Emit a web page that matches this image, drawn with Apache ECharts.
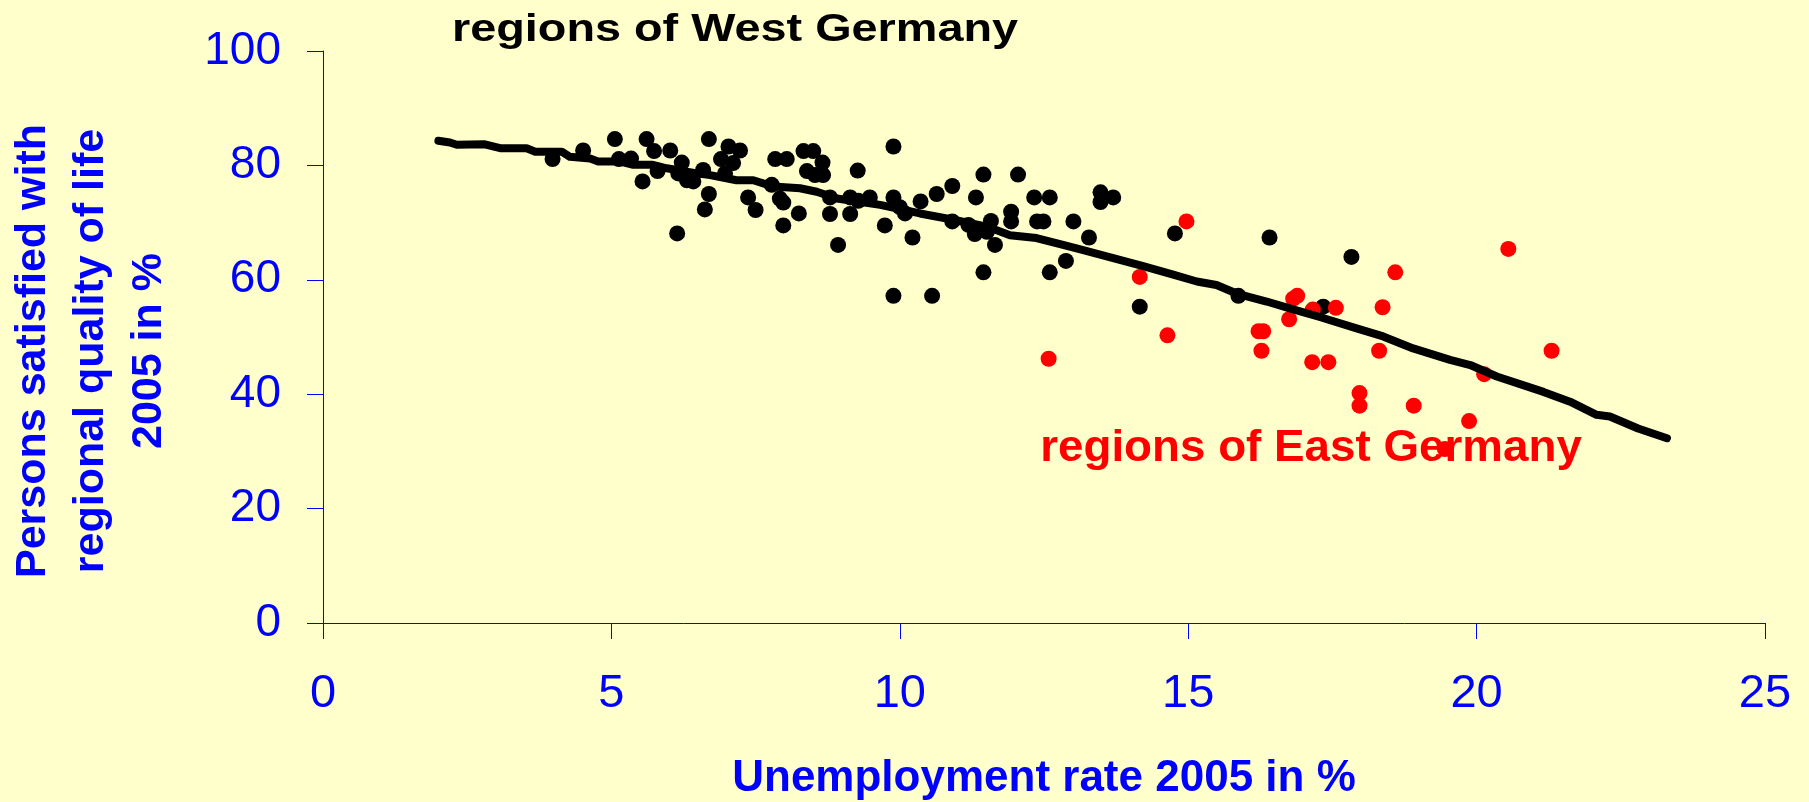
<!DOCTYPE html>
<html>
<head>
<meta charset="utf-8">
<script src="https://cdn.jsdelivr.net/npm/echarts@6/dist/echarts.min.js"></script>
<style>
  html, body { margin: 0; padding: 0; background: #ffffcc; }
  #chart { width: 1809px; height: 802px; }
</style>
</head>
<body>
<div id="chart"></div>
<script>
// ---- data ----
var xTicks = [0, 5, 10, 15, 20, 25];
var yTicks = [0, 20, 40, 60, 80, 100];

var westRegions = [
  [3.98,81.1],[4.51,82.6],[5.06,84.6],[5.13,81.1],[5.34,81.2],[5.54,77.2],[5.61,84.6],[5.74,82.5],
  [5.80,79.0],[6.02,82.6],[6.14,68.1],[6.22,80.5],[6.16,78.6],[6.31,77.4],[6.42,77.2],[6.59,79.2],
  [6.69,84.6],[6.69,75.0],[6.62,72.3],[6.90,81.1],[7.03,83.3],[7.23,82.6],[7.11,80.4],[6.97,78.6],
  [7.37,74.4],[7.50,72.2],[7.84,81.1],[8.04,81.1],[7.78,76.6],[7.92,74.2],[7.98,73.5],[7.98,69.5],
  [8.25,71.6],[8.33,82.5],[8.50,82.5],[8.66,80.5],[8.39,79.0],[8.53,78.3],[8.67,78.3],[8.79,74.4],
  [8.79,71.5],[8.93,66.1],
  [9.89,83.3],[9.27,79.1],[9.14,74.4],[9.28,73.8],[9.48,74.4],[9.14,71.5],[9.89,74.4],[10.0,72.7],
  [10.09,71.6],[9.74,69.5],[10.22,67.4],[10.36,73.7],[10.64,75.0],[10.91,76.4],[10.91,70.2],[11.19,69.6],
  [11.30,68.0],[11.32,74.4],[11.45,78.4],[11.58,70.3],[11.51,68.4],[11.65,66.1],[11.45,61.3],[9.89,57.2],
  [10.56,57.2],[11.93,71.9],[11.93,70.2],[12.05,78.4],[12.33,74.4],[12.60,74.4],[12.38,70.2],[12.49,70.2],
  [13.01,70.2],[13.28,67.4],[12.88,63.3],[12.60,61.3],[13.48,75.3],[13.48,73.6],[13.70,74.4],[14.77,68.1],
  [14.16,55.3],[15.87,57.2],[16.41,67.4],[17.83,64.0],[17.34,55.3]
];

var eastRegions = [
  [14.97,70.2],[14.16,60.5],[12.58,46.2],[14.64,50.3],[16.22,51.0],[16.30,51.0],[16.27,47.6],[16.75,53.1],
  [16.82,56.7],[16.89,57.2],[17.16,54.8],[17.56,55.1],[17.15,45.6],[17.43,45.6],[17.97,40.2],[17.97,38.0],
  [18.31,47.6],[18.37,55.2],[18.59,61.3],[18.91,38.0],[19.45,30.4],[19.87,35.3],[20.13,43.5],[20.55,65.4],
  [21.30,47.6]
];

var trendLine = [
  [2.0,84.3],[2.2,84.0],[2.32,83.6],[2.79,83.7],[3.07,83.0],[3.53,83.0],[3.68,82.4],[4.14,82.4],
  [4.28,81.5],[4.63,81.2],[4.77,80.7],[5.14,80.7],[5.38,80.1],[5.72,80.1],[5.96,79.5],[6.48,78.6],
  [6.71,78.3],[7.17,77.4],[7.46,77.4],[7.81,76.3],[8.27,76.0],[8.56,75.4],[8.91,74.2],[9.66,73.1],
  [10.35,71.6],[10.93,70.5],[11.51,69.3],[11.91,67.8],[12.37,67.3],[12.83,66.1],[13.18,65.2],[13.70,63.8],
  [14.22,62.4],[14.74,60.9],[15.15,59.7],[15.49,59.1],[15.84,57.6],[16.36,56.2],[16.76,55.0],[17.28,53.5],
  [17.92,51.5],[18.38,50.1],[18.90,48.0],[19.54,46.0],[19.89,45.1],[20.35,43.1],[21.16,40.4],[21.62,38.7],
  [22.08,36.4],[22.31,36.1],[22.8,34.0],[23.3,32.3]
];

var titleWest = 'regions of West Germany';
var labelEast = 'regions of East Germany';
var xAxisTitle = 'Unemployment rate 2005 in %';
var yAxisTitle = ['Persons satisfied with', 'regional quality of life', '2005 in %'];

// ---- chart ----
var BLUE = '#0000ff';
var FONT = '"Liberation Sans", Arial, sans-serif';
var chart = echarts.init(document.getElementById('chart'), null, { renderer: 'canvas' });

var option = {
  backgroundColor: '#ffffcc',
  animation: false,
  grid: { left: 323, right: 44, top: 51, bottom: 179, containLabel: false, outerBoundsMode: 'none' },
  xAxis: {
    type: 'value',
    min: xTicks[0], max: xTicks[xTicks.length - 1], interval: xTicks[1] - xTicks[0],
    axisLine: { show: true, onZero: false, lineStyle: { color: BLUE, width: 1 } },
    axisTick: { show: true, inside: false, length: 16, lineStyle: { color: BLUE, width: 1 } },
    splitLine: { show: false },
    axisLabel: { color: BLUE, fontSize: 47, fontFamily: FONT, margin: 48 },
    name: xAxisTitle,
    nameLocation: 'middle',
    nameGap: 134,
    nameTextStyle: { color: BLUE, fontSize: 44, fontWeight: 'bold', fontFamily: FONT }
  },
  yAxis: {
    type: 'value',
    min: yTicks[0], max: yTicks[yTicks.length - 1], interval: yTicks[1] - yTicks[0],
    axisLine: { show: true, onZero: false, lineStyle: { color: BLUE, width: 1 } },
    axisTick: { show: true, inside: false, length: 16, lineStyle: { color: BLUE, width: 1 } },
    splitLine: { show: false },
    axisLabel: { color: BLUE, fontSize: 46, fontFamily: FONT, margin: 42 },
    name: yAxisTitle.join('\n'),
    nameLocation: 'middle',
    nameRotate: 90,
    nameGap: 145,
    nameTextStyle: { color: BLUE, fontSize: 43, fontWeight: 'bold', fontFamily: FONT, lineHeight: 58, align: 'center', padding: [0, 28, 0, 0] }
  },
  series: [
    {
      name: 'West', type: 'scatter', data: westRegions,
      symbol: 'circle', symbolSize: 16,
      itemStyle: { color: '#000000', opacity: 1 }, z: 2
    },
    {
      name: 'East', type: 'scatter', data: eastRegions,
      symbol: 'circle', symbolSize: 16,
      itemStyle: { color: '#ff0000', opacity: 1 }, z: 3
    },
    {
      name: 'Trend', type: 'line', data: trendLine,
      showSymbol: false, symbol: 'none', smooth: false,
      lineStyle: { color: '#000000', width: 8, cap: 'round', join: 'round' }, z: 4
    }
  ],
  graphic: [
    {
      type: 'text', x: 452, y: 30, scaleX: 1.2, z: 10,
      style: { text: titleWest, fill: '#000000', font: 'bold 39px ' + FONT, align: 'left', verticalAlign: 'middle' }
    },
    {
      type: 'text', x: 1311, y: 449, scaleX: 1.04, z: 10,
      style: { text: labelEast, fill: '#ff0000', font: 'bold 44px ' + FONT, align: 'center', verticalAlign: 'middle' }
    }
  ]
};
chart.setOption(option);
</script>
</body>
</html>
